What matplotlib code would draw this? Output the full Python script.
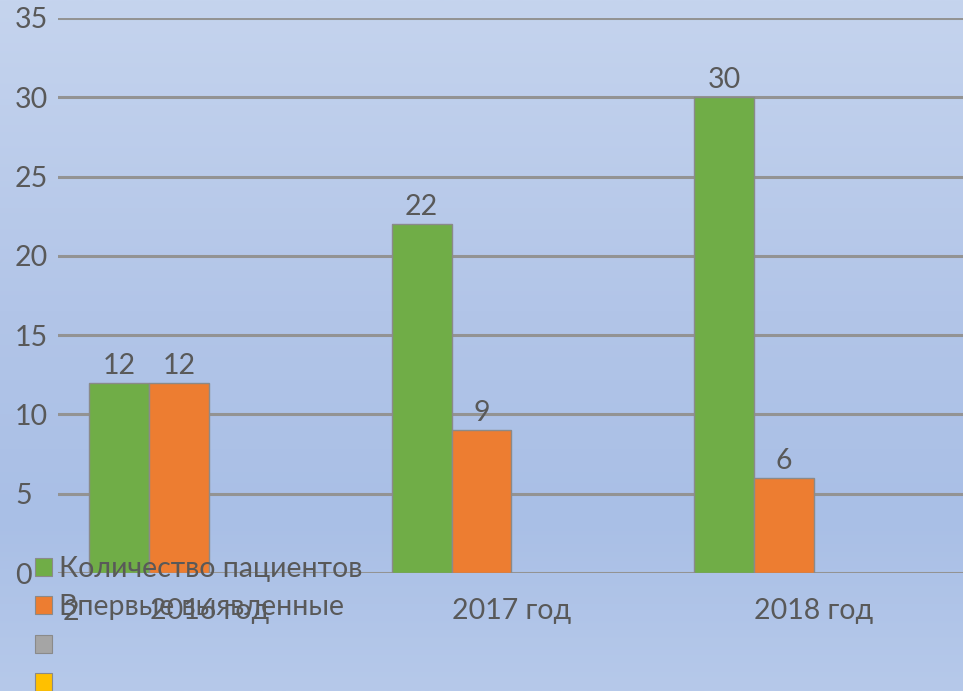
import numpy as np
import matplotlib.pyplot as plt
from matplotlib.patches import Patch

# данные
years = ["2016 год", "2017 год", "2018 год"]
series_names = ["Количество пациентов", "Впервые выявленные", "", ""]
patients = [12, 22, 30]
first_time = [12, 9, 6]
empty3 = [0, 0, 0]
empty4 = [0, 0, 0]
colors = ["#70ad47", "#ed7d31", "#a5a5a5", "#ffc000"]
yticks = [0, 5, 10, 15, 20, 25, 30, 35]

plt.rcParams['font.family'] = ['Lato', 'DejaVu Sans']
txt = "#595959"
fs = 20.5

W, H = 963, 691
fig = plt.figure(figsize=(W / 100, H / 100), dpi=100)

# фон-градиент
bg = fig.add_axes([0, 0, 1, 1], zorder=-10)
stops_y = [0.0, 0.45, 0.75, 1.0]
stops_c = np.array([[0xc5, 0xd4, 0xee], [0xb2, 0xc5, 0xe8], [0xa9, 0xbf, 0xe6], [0xb6, 0xc9, 0xea]]) / 255
yy = np.linspace(0, 1, 256)
grad = np.stack([np.interp(yy, stops_y, stops_c[:, k]) for k in range(3)], axis=-1)
bg.imshow(grad[:, None, :], aspect='auto', extent=[0, 1, 1, 0])
bg.set_xlim(0, 1)
bg.set_ylim(1, 0)
bg.axis('off')

ax = fig.add_axes([58 / W, 1 - 573 / H, (965 - 58) / W, (573 - 18) / H])
ax.patch.set_alpha(0)

x = np.arange(len(years))
w = 0.198
all_vals = [patients, first_time, empty3, empty4]
for i, (vals, c) in enumerate(zip(all_vals, colors)):
    pos = x + (i - 1.5) * w
    if i < 2:
        bars = ax.bar(pos, vals, w, color=c, edgecolor="#8a8a8a", linewidth=1.0, zorder=3)
        for b, v in zip(bars, vals):
            ax.text(b.get_x() + b.get_width() / 2, v + 0.25, str(v), ha='center', va='bottom',
                    fontsize=fs, color=txt, zorder=4)
    else:
        ax.bar(pos, vals, w, color=c, linewidth=0, zorder=3)

ax.set_xlim(-0.5, 2.5)
ax.set_ylim(0, 35)
ax.set_yticks(yticks)
ax.set_yticklabels([str(t) for t in yticks], fontsize=fs, color=txt, ha='left')
ax.tick_params(axis='y', length=0, pad=31)
ax.set_xticks(x)
ax.set_xticklabels(years, fontsize=fs, color=txt)
ax.tick_params(axis='x', length=0, pad=18)
ax.grid(axis='y', color="#939393", linewidth=2.2, zorder=1)
for s in ax.spines.values():
    s.set_visible(False)

handles = [Patch(facecolor=c, edgecolor="#8a8a8a", linewidth=0.8) for c in colors]
fig.legend(handles, series_names, loc='upper left', bbox_to_anchor=(12 / W, 1 - 533 / H),
           frameon=False, fontsize=fs, labelcolor=txt, handlelength=0.6, handleheight=0.6,
           handletextpad=0.25, labelspacing=0.44, borderpad=0.3)

fig.text(71 / W, 1 - 612 / H, "2", fontsize=fs, color=txt, ha='center', va='center')

fig.savefig("out.png", dpi=100)
